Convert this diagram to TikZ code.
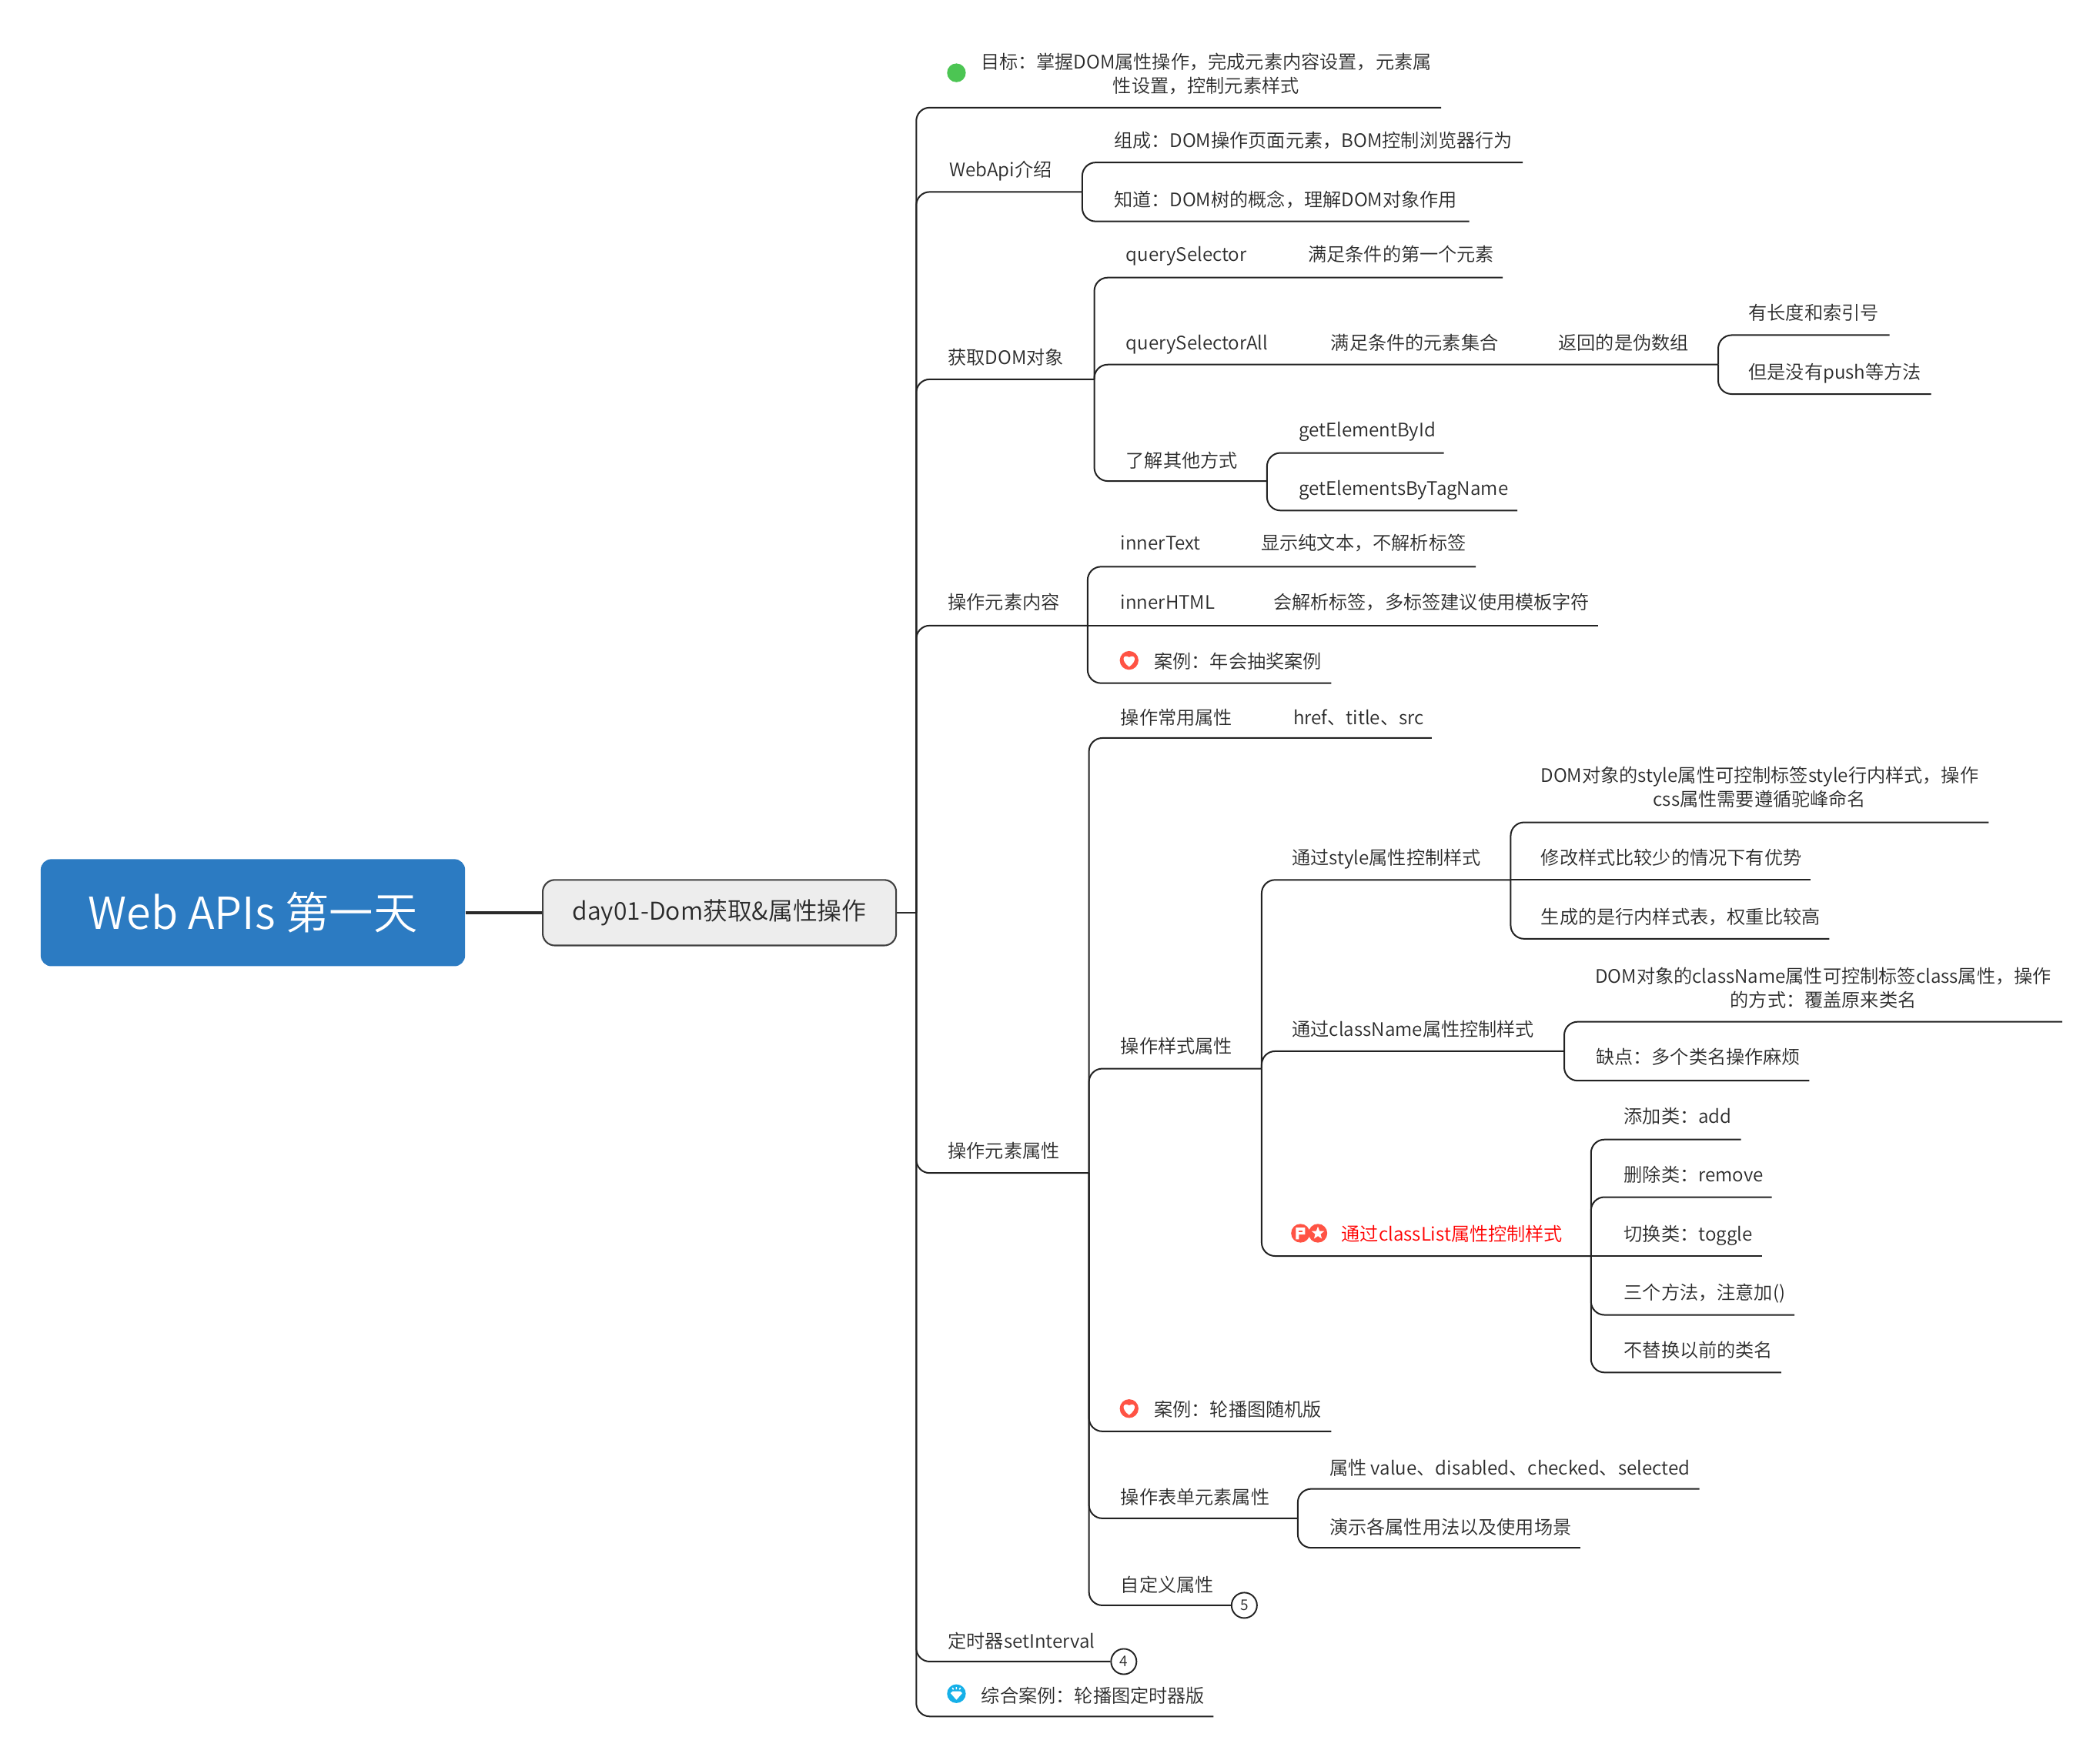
\documentclass[tikz,border=0pt]{standalone}
\usepackage{fontspec}
\usetikzlibrary{shapes.geometric}
\setmainfont{Noto Sans CJK SC DemiLight}
\definecolor{ink}{HTML}{2A2A2A}
\definecolor{rule}{HTML}{222222}
\definecolor{rootblue}{HTML}{2C7BC2}
\definecolor{iconred}{HTML}{FF5344}
\definecolor{icongreen}{HTML}{4CC553}
\definecolor{iconblue}{HTML}{16B0E8}
\tikzset{
  lbl/.style={anchor=base west,inner sep=0pt,text=ink,font=\fontsize{13.9}{17.5}\selectfont},
  multi/.style={anchor=center,inner sep=0pt,text=ink,align=center,font=\fontsize{13.9}{18}\selectfont},
  conn/.style={draw=rule,line width=1.15pt,rounded corners=10pt},
  numc/.style={circle,draw=rule,line width=1.1pt,fill=white,minimum size=19pt,inner sep=0pt,text=ink,font=\fontsize{11}{11}\selectfont},
  dot/.style={circle,minimum size=14pt,inner sep=0pt},
}
\newcommand{\lab}[4]{\node[lbl] (#1) at (#2+0.5,#3+5.7) {#4};}
\newcommand{\heartat}[1]{\fill[white,shift={(#1)}] (0,4.8) .. controls (-6.2,0.4) and (-4.8,-5) .. (0,-2.4) .. controls (4.8,-5) and (6.2,0.4) .. (0,4.8) -- cycle;}
\begin{document}
\begin{tikzpicture}[x=1pt,y=-1pt]
\useasboundingbox (-0.4,-0.4) rectangle (1568.2,1311.8);
% central nodes
\node[draw=none,fill=rootblue,rounded corners=8pt,minimum width=317pt,minimum height=80pt,inner sep=0pt,text=white,font=\fontsize{33}{33}\selectfont] (root) at (188.5,681.5) {Web APIs 第一天};
\node[draw=ink!90,line width=1.2pt,fill=black!7,rounded corners=9pt,minimum width=264pt,minimum height=49pt,inner sep=0pt,text=ink,font=\fontsize{18.3}{18.3}\selectfont] (day) at (537,681.5) {day01-Dom获取\&属性操作};
\coordinate (sp0) at (684,681.5);
% level 1 ends
\coordinate (goalE) at (1076,80);
\coordinate (webE) at (808,143);
\coordinate (domE) at (817,283);
\coordinate (contE) at (812,467);
\coordinate (attrE) at (813,876);
\coordinate (caseE) at (906,1282);
\node[numc] (c4) at (839,1241) {4};
\node[numc] (c5) at (929,1199) {5};
% level 2+ ends
\coordinate (w1E) at (1137,121);
\coordinate (w2E) at (1097,165);
\coordinate (q1E) at (1122,207);
\coordinate (q2E) at (1283,272);
\coordinate (q3E) at (946,359);
\coordinate (h1E) at (1411,250);
\coordinate (h2E) at (1442,294);
\coordinate (g1E) at (1078,338);
\coordinate (g2E) at (1133,381);
\coordinate (i1E) at (1102,423);
\coordinate (i2E) at (1193,467);
\coordinate (i3E) at (994,510);
\coordinate (a1E) at (1069,551);
\coordinate (a2E) at (942,798);
\coordinate (a3E) at (994,1069);
\coordinate (a4E) at (969,1134);
\coordinate (s1E) at (1128,657);
\coordinate (s2E) at (1168,785);
\coordinate (s3E) at (1188,938);
\coordinate (st1E) at (1485,614);
\coordinate (st2E) at (1352,657);
\coordinate (st3E) at (1366,701);
\coordinate (cn1E) at (1540,763);
\coordinate (cn2E) at (1351,807);
\coordinate (cl1E) at (1300,851);
\coordinate (cl2E) at (1323,894);
\coordinate (cl3E) at (1316,938);
\coordinate (cl4E) at (1340,982);
\coordinate (cl5E) at (1330,1025);
\coordinate (f1E) at (1269,1112);
\coordinate (f2E) at (1180,1156);
% connectors
\draw[draw=ink,line width=2.4pt] (root.east) -- (day.west);
\draw[draw=ink,line width=1.2pt] (day.east) -- (sp0);
\draw[conn] (sp0) |- (goalE);
\draw[conn] (sp0) |- (webE);
\draw[conn] (sp0) |- (domE);
\draw[conn] (sp0) |- (contE);
\draw[conn] (sp0) |- (attrE);
\draw[conn] (sp0) |- (c4.west);
\draw[conn] (sp0) |- (caseE);
\draw[conn] (webE) |- (w1E);
\draw[conn] (webE) |- (w2E);
\draw[conn] (domE) |- (q1E);
\draw[conn] (domE) |- (q2E);
\draw[conn] (domE) |- (q3E);
\draw[conn] (q2E) |- (h1E);
\draw[conn] (q2E) |- (h2E);
\draw[conn] (q3E) |- (g1E);
\draw[conn] (q3E) |- (g2E);
\draw[conn] (contE) |- (i1E);
\draw[conn] (contE) -- (i2E);
\draw[conn] (contE) |- (i3E);
\draw[conn] (attrE) |- (a1E);
\draw[conn] (attrE) |- (a2E);
\draw[conn] (attrE) |- (a3E);
\draw[conn] (attrE) |- (a4E);
\draw[conn] (attrE) |- (c5.west);
\draw[conn] (a2E) |- (s1E);
\draw[conn] (a2E) |- (s2E);
\draw[conn] (a2E) |- (s3E);
\draw[conn] (s1E) |- (st1E);
\draw[conn] (s1E) -- (st2E);
\draw[conn] (s1E) |- (st3E);
\draw[conn] (s2E) |- (cn1E);
\draw[conn] (s2E) |- (cn2E);
\draw[conn] (s3E) |- (cl1E);
\draw[conn] (s3E) |- (cl2E);
\draw[conn] (s3E) -- (cl3E);
\draw[conn] (s3E) |- (cl4E);
\draw[conn] (s3E) |- (cl5E);
\draw[conn] (a4E) |- (f1E);
\draw[conn] (a4E) |- (f2E);
% labels
\node[multi] (goal) at (900.5,54.7) {目标：掌握DOM属性操作，完成元素内容设置，元素属\\性设置，控制元素样式};
\lab{web}{708}{126}{WebApi介绍}
\lab{w1}{831}{104}{组成：DOM操作页面元素，BOM控制浏览器行为}
\lab{w2}{831}{148}{知道：DOM树的概念，理解DOM对象作用}
\lab{dom}{707}{266}{获取DOM对象}
\lab{q1}{840}{189}{querySelector}
\lab{q1b}{976}{189}{满足条件的第一个元素}
\lab{q2}{840}{255}{querySelectorAll}
\lab{q2b}{993}{255}{满足条件的元素集合}
\lab{q2c}{1163}{255}{返回的是伪数组}
\lab{h1}{1305}{233}{有长度和索引号}
\lab{h2}{1305}{277}{但是没有push等方法}
\lab{q3}{840}{343}{了解其他方式}
\lab{g1}{969}{320}{getElementById}
\lab{g2}{969}{364}{getElementsByTagName}
\lab{cont}{707}{449}{操作元素内容}
\lab{i1}{836}{405}{innerText}
\lab{i1b}{941}{405}{显示纯文本，不解析标签}
\lab{i2}{836}{449}{innerHTML}
\lab{i2b}{950}{449}{会解析标签，多标签建议使用模板字符}
\lab{i3}{861}{493}{案例：年会抽奖案例}
\lab{attr}{707}{859}{操作元素属性}
\lab{a1}{836}{535}{操作常用属性}
\lab{a1b}{965}{535}{href、title、src}
\lab{a2}{836}{781}{操作样式属性}
\lab{s1}{964}{640}{通过style属性控制样式}
\node[multi] (st1) at (1314,587.7) {DOM对象的style属性可控制标签style行内样式，操作\\css属性需要遵循驼峰命名};
\lab{st2}{1150}{640}{修改样式比较少的情况下有优势}
\lab{st3}{1150}{684}{生成的是行内样式表，权重比较高}
\lab{s2}{964}{768}{通过className属性控制样式}
\node[multi] (cn1) at (1361.5,737.7) {DOM对象的className属性可控制标签class属性，操作\\的方式：覆盖原来类名};
\lab{cn2}{1191}{789}{缺点：多个类名操作麻烦}
\node[lbl,text=red] (s3) at (1001.5,926.7) {通过classList属性控制样式};
\lab{cl1}{1212}{833}{添加类：add}
\lab{cl2}{1212}{877}{删除类：remove}
\lab{cl3}{1212}{921}{切换类：toggle}
\lab{cl4}{1212}{965}{三个方法，注意加()}
\lab{cl5}{1212}{1008}{不替换以前的类名}
\lab{a3}{861}{1052}{案例：轮播图随机版}
\lab{a4}{836}{1118}{操作表单元素属性}
\lab{f1}{992}{1096}{属性 value、disabled、checked、selected}
\lab{f2}{992}{1140}{演示各属性用法以及使用场景}
\lab{a5}{836}{1183}{自定义属性}
\lab{timer}{707}{1225}{定时器setInterval}
\lab{cs}{732}{1266}{综合案例：轮播图定时器版}
% icons
\node[dot,fill=icongreen] (igoal) at (714,54) {};
\node[dot,fill=iconred] (ih1) at (843,493) {};
\heartat{ih1}
\node[dot,fill=iconred] (ih2) at (843,1052) {};
\heartat{ih2}
\node[dot,fill=iconred] (iflag) at (971,921) {};
\fill[white,shift={(iflag)}] (-3.5,-4.2) -- (3.5,-4.2) -- (3.5,1) -- (-1.2,1) -- (-1.2,4.6) -- (-3.5,4.6) -- cycle;
\fill[iconred,shift={(iflag)}] (-1.2,-2.2) rectangle (1.4,-0.8);
\node[dot,fill=iconred] (istar) at (984,921) {};
\node[star,star points=5,star point ratio=2.4,fill=white,minimum size=10pt,inner sep=0pt] (istarw) at (984,921) {};
\node[dot,fill=iconblue] (igem) at (714,1265) {};
\fill[white,shift={(igem)}] (-4.4,-0.4) -- (-2.8,-1.8) -- (2.8,-1.8) -- (4.4,-0.4) -- (0,4.6) -- cycle;
\draw[white,line width=0.9pt,shift={(igem)}] (0,-5) -- (0,-3.2) (-3,-4.4) -- (-2.2,-3.1) (3,-4.4) -- (2.2,-3.1);
\end{tikzpicture}
\end{document}
